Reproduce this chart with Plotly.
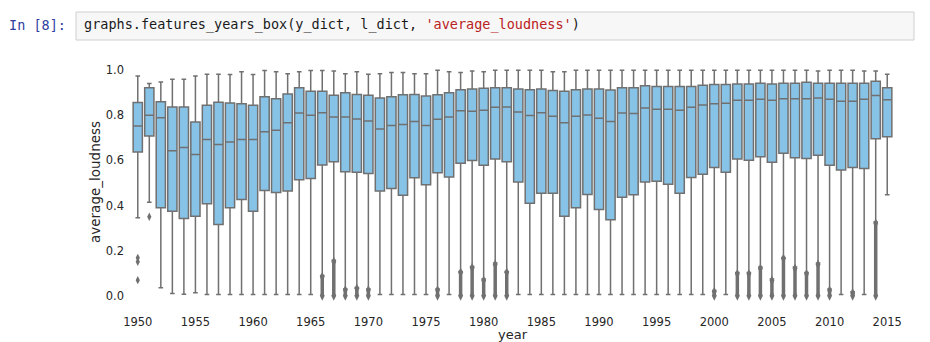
import plotly.graph_objects as go

years = list(range(1950, 2016))

upper = [0.975, 0.941, 0.948, 0.960, 0.960, 0.975, 0.982, 0.982, 0.981, 0.993,
         0.981, 0.999, 0.993, 0.985, 0.993, 0.999, 0.999, 0.997, 0.985, 0.993,
         0.982, 0.985, 0.990, 0.990, 0.985, 0.985, 1.000, 0.993, 0.990, 0.997,
         0.993, 1.000, 1.000, 1.000, 1.000, 1.000, 0.993, 0.993, 1.000, 1.000,
         1.000, 1.000, 1.000, 1.000, 1.000, 1.000, 1.000, 1.000, 1.000, 1.000,
         1.000, 1.000, 1.000, 1.000, 1.000, 1.000, 1.000, 1.000, 1.000, 0.997,
         1.000, 1.000, 1.000, 0.997, 0.997, 0.982]

q3 = [0.857, 0.923, 0.860, 0.837, 0.837, 0.771, 0.845, 0.858, 0.855, 0.852,
      0.845, 0.883, 0.874, 0.895, 0.923, 0.907, 0.907, 0.889, 0.900, 0.893,
      0.889, 0.877, 0.883, 0.891, 0.893, 0.886, 0.891, 0.900, 0.914, 0.917,
      0.920, 0.923, 0.923, 0.917, 0.914, 0.917, 0.910, 0.907, 0.914, 0.917,
      0.917, 0.913, 0.923, 0.923, 0.931, 0.928, 0.928, 0.928, 0.928, 0.934,
      0.937, 0.937, 0.939, 0.939, 0.942, 0.939, 0.942, 0.942, 0.947, 0.942,
      0.942, 0.942, 0.942, 0.942, 0.951, 0.923]

median = [0.753, 0.800, 0.789, 0.643, 0.657, 0.626, 0.693, 0.671, 0.682, 0.693,
          0.693, 0.727, 0.734, 0.767, 0.811, 0.800, 0.812, 0.793, 0.793, 0.784,
          0.775, 0.739, 0.755, 0.759, 0.773, 0.755, 0.783, 0.793, 0.820, 0.818,
          0.823, 0.836, 0.837, 0.815, 0.799, 0.812, 0.796, 0.767, 0.796, 0.802,
          0.787, 0.773, 0.811, 0.808, 0.833, 0.827, 0.827, 0.823, 0.836, 0.846,
          0.851, 0.854, 0.867, 0.867, 0.871, 0.867, 0.874, 0.874, 0.874, 0.877,
          0.871, 0.863, 0.863, 0.871, 0.888, 0.869]

q1 = [0.638, 0.708, 0.390, 0.375, 0.343, 0.353, 0.408, 0.316, 0.390, 0.427,
      0.375, 0.467, 0.458, 0.464, 0.514, 0.520, 0.580, 0.594, 0.550, 0.548,
      0.542, 0.464, 0.476, 0.446, 0.523, 0.492, 0.545, 0.527, 0.588, 0.600,
      0.579, 0.607, 0.594, 0.504, 0.410, 0.455, 0.455, 0.352, 0.390, 0.449,
      0.383, 0.337, 0.437, 0.448, 0.504, 0.508, 0.495, 0.455, 0.524, 0.539,
      0.569, 0.548, 0.606, 0.601, 0.616, 0.592, 0.632, 0.612, 0.609, 0.623,
      0.579, 0.558, 0.569, 0.564, 0.696, 0.705]

lower = [0.346, 0.415, 0.035, 0.010, 0.007, 0.013, 0.005, 0.005, 0.005, 0.005,
         0.005, 0.005, 0.005, 0.005, 0.005, 0.005, 0.090, 0.157, 0.030, 0.037,
         0.030, 0.005, 0.005, 0.005, 0.005, 0.005, 0.030, 0.005, 0.108, 0.130,
         0.074, 0.145, 0.108, 0.005, 0.005, 0.005, 0.005, 0.005, 0.005, 0.005,
         0.005, 0.005, 0.005, 0.005, 0.005, 0.005, 0.005, 0.005, 0.005, 0.005,
         0.023, 0.005, 0.103, 0.103, 0.127, 0.074, 0.170, 0.127, 0.103, 0.145,
         0.030, 0.005, 0.018, 0.005, 0.327, 0.448]

# single outliers
single_out_years = [1950, 1950, 1950, 1951]
single_out_vals = [0.168, 0.151, 0.069, 0.350]

# dense outlier runs (from lowest to highest outlier)
cluster_years = [1966, 1967, 1968, 1969, 1970, 1976, 1978, 1979, 1980, 1981, 1982,
                 2000, 2002, 2003, 2004, 2005, 2006, 2007, 2008, 2009, 2010, 2012, 2014]
cluster_max = [0.084, 0.151, 0.025, 0.032, 0.025, 0.025, 0.103, 0.124, 0.068, 0.139, 0.103,
               0.018, 0.097, 0.097, 0.121, 0.068, 0.165, 0.121, 0.097, 0.139, 0.024, 0.012, 0.321]
cluster_min = [0.0] * len(cluster_years)

x_ticks = list(range(1950, 2016, 5))
y_ticks = [0.0, 0.2, 0.4, 0.6, 0.8, 1.0]

BOX_FILL = "#87c2e7"
LINE = "#707070"
TXT = "#262626"

W, H = 930, 342
L, R, T, B = 132, 37, 59, 35
pw, ph = W - L - R, H - T - B


def px_x(x):
    return (x - L) / pw


def px_y(y):
    return (H - B - y) / ph


fig = go.Figure()

fig.add_trace(go.Box(
    x=years, q1=q1, median=median, q3=q3, lowerfence=lower, upperfence=upper,
    width=0.8, whiskerwidth=0.5, fillcolor=BOX_FILL,
    line=dict(color=LINE, width=1.5), boxpoints=False, hoverinfo="skip",
    showlegend=False,
))

# dense outlier runs as thick segments
seg_x, seg_y = [], []
for yr, lo, hi in zip(cluster_years, cluster_min, cluster_max):
    seg_x += [yr, yr, None]
    seg_y += [lo, hi, None]
fig.add_trace(go.Scatter(
    x=seg_x, y=seg_y, mode="lines", line=dict(color=LINE, width=3.5),
    hoverinfo="skip", showlegend=False,
))
fig.add_trace(go.Scatter(
    x=cluster_years + cluster_years, y=cluster_max + cluster_min, mode="markers",
    marker=dict(symbol="diamond-tall", size=7, color=LINE, line=dict(width=0)),
    hoverinfo="skip", showlegend=False,
))
fig.add_trace(go.Scatter(
    x=single_out_years, y=single_out_vals, mode="markers",
    marker=dict(symbol="diamond-tall", size=6, color=LINE, line=dict(width=0)),
    hoverinfo="skip", showlegend=False,
))

fig.update_layout(
    width=W, height=H,
    margin=dict(l=L, r=R, t=T, b=B),
    paper_bgcolor="white", plot_bgcolor="white",
    font=dict(family="DejaVu Sans", color=TXT, size=11.5),
    xaxis=dict(range=[1949.5, 2015.5], tickvals=x_ticks, ticktext=[str(v) for v in x_ticks],
               showgrid=False, zeroline=False, showline=False, ticks="",
               ticklabelstandoff=6, tickfont=dict(size=11.5, color=TXT)),
    yaxis=dict(range=[-0.05, 1.05], tickvals=y_ticks, ticktext=[f"{v:.1f}" for v in y_ticks],
               showgrid=False, zeroline=False, showline=False, ticks="",
               ticklabelstandoff=7, tickfont=dict(size=11.5, color=TXT)),
)

# axis titles
fig.add_annotation(text="year", xref="paper", yref="paper", x=px_x(513), y=px_y(334),
                   xanchor="center", yanchor="middle", showarrow=False,
                   font=dict(size=13, color=TXT, family="DejaVu Sans"))
fig.add_annotation(text="average_loudness", xref="paper", yref="paper", x=px_x(95), y=px_y(182),
                   xanchor="center", yanchor="middle", showarrow=False, textangle=-90,
                   font=dict(size=13.5, color=TXT, family="DejaVu Sans"))

# notebook input cell
fig.add_shape(type="rect", xref="paper", yref="paper",
              x0=px_x(76), x1=px_x(914), y0=px_y(40), y1=px_y(12),
              line=dict(color="#cfcfcf", width=1), fillcolor="#f7f7f7", layer="below")
fig.add_annotation(text="In [8]:", xref="paper", yref="paper", x=px_x(68), y=px_y(25),
                   xanchor="right", yanchor="middle", showarrow=False,
                   font=dict(size=13.5, color="#303f9f", family="DejaVu Sans Mono"))
fig.add_annotation(
    text="graphs.features_years_box(y_dict, l_dict, <span style='color:#ba2121'>'average_loudness'</span>)",
    xref="paper", yref="paper", x=px_x(82), y=px_y(25),
    xanchor="left", yanchor="middle", showarrow=False,
    font=dict(size=13.5, color="#1a1a1a", family="DejaVu Sans Mono"))

fig.write_html("out.html")
